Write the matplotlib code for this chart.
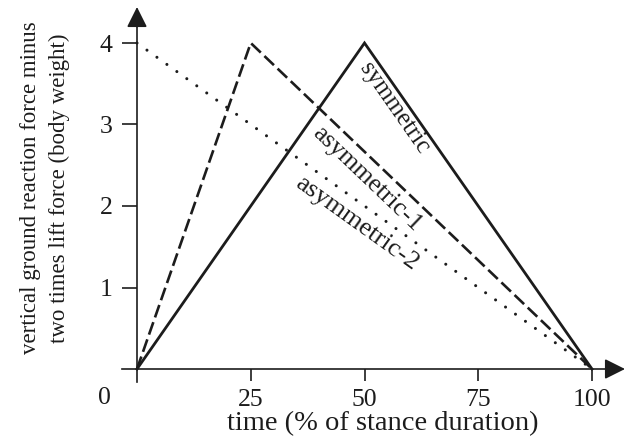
import matplotlib
matplotlib.use("Agg")
import matplotlib.pyplot as plt
import numpy as np
from matplotlib.patches import FancyArrowPatch

# ---------------- data ----------------
sym_x = [0, 50, 100]
sym_y = [0, 4, 0]
asym1_x = [0, 25, 100]
asym1_y = [0, 4, 0]
asym2_x = [0, 100]
asym2_y = [4, 0]

x_ticks = [25, 50, 75, 100]
x_tick_labels = ["25", "50", "75", "100"]
y_ticks = [1, 2, 3, 4]
y_tick_labels = ["1", "2", "3", "4"]

series_labels = ["symmetric", "asymmetric-1", "asymmetric-2"]
label_pos = [(56.5, 3.2), (50.5, 2.33), (48.4, 1.79)]

xlabel = "time (% of stance duration)"
ylabel = "vertical ground reaction force minus\ntwo times lift force (body weight)"

# ---------------- style ----------------
plt.rcParams['font.family'] = ['Liberation Serif', 'DejaVu Serif']
ink = '#1c1c1c'

W, H = 626, 440
fig = plt.figure(figsize=(W / 100, H / 100), dpi=100)
ax = fig.add_axes([0, 0, 1, 1])

# pixel mapping: x=0 -> 137px, x=100 -> 592px ; y=0 -> 369px (from top), y=4 -> 43px
sx = (592 - 137) / 100.0
sy = (369 - 43) / 4.0
ax.set_xlim(-137 / sx, (W - 137) / sx)
ax.set_ylim(-(H - 369) / sy, 369 / sy)
ax.patch.set_alpha(0)

ax.plot(sym_x, sym_y, color=ink, lw=2.0, solid_joinstyle='miter')
ax.plot(asym1_x, asym1_y, color=ink, lw=1.9, linestyle=(0, (5.0, 1.9)),
        dash_capstyle='butt', solid_joinstyle='miter')
ax.plot(asym2_x, asym2_y, color=ink, lw=2.2, linestyle=(0, (0.01, 4.0)),
        dash_capstyle='round')

# axes spines through origin
for s in ['top', 'right']:
    ax.spines[s].set_visible(False)
ax.spines['left'].set_position(('data', 0))
ax.spines['bottom'].set_position(('data', 0))
ax.spines['left'].set_bounds(-0.16, 4.3)
ax.spines['bottom'].set_bounds(-3.3, 105)
for s in ['left', 'bottom']:
    ax.spines[s].set_color(ink)
    ax.spines[s].set_linewidth(1.2)

ax.set_xticks(x_ticks)
ax.set_xticklabels(x_tick_labels)
ax.set_yticks(y_ticks)
ax.set_yticklabels(y_tick_labels)
ax.tick_params(axis='both', direction='out', width=1.2, color=ink,
               labelsize=18.5, labelcolor=ink)
ax.tick_params(axis='x', length=8.5, pad=6)
ax.tick_params(axis='y', length=10.5, pad=7)

# arrows
ymax_tip = (369 - 7) / sy
xmax_tip = (625 - 137) / sx
for start, end in [((0, 4.2), (0, ymax_tip)), ((104, 0), (xmax_tip, 0))]:
    arr = FancyArrowPatch(start, end, arrowstyle='-|>,head_length=1.0,head_width=0.5',
                          mutation_scale=12.5, color=ink, lw=1.2, clip_on=False,
                          shrinkA=0, shrinkB=0)
    ax.add_patch(arr)

# origin zero
ax.text(-7.25, -0.36, "0", fontsize=18.5, color=ink, ha='center', va='center')

# axis labels
ax.set_xlabel(xlabel, fontsize=20.5, color=ink, va='center')
ax.xaxis.set_label_coords(383 / W, 1 - 424 / H)
ax.set_ylabel(ylabel, fontsize=16.5, color=ink, va='center', ha='center',
              linespacing=1.5)
ax.yaxis.set_label_coords(45 / W, 1 - 188 / H)

# in-line labels rotated along their lines
segs = [((50, 4), (100, 0)), ((25, 4), (100, 0)), ((0, 4), (100, 0))]
sizes = [18, 18.5, 19]
fig.canvas.draw()
for lab, (px, py), (p0, p1), fs in zip(series_labels, label_pos, segs, sizes):
    a = ax.transData.transform(p0)
    b = ax.transData.transform(p1)
    ang = np.degrees(np.arctan2(b[1] - a[1], b[0] - a[0]))
    ax.text(px, py, lab, fontsize=fs, color=ink, rotation=ang,
            rotation_mode='anchor', ha='center', va='center')

fig.savefig("out.png", dpi=100)
